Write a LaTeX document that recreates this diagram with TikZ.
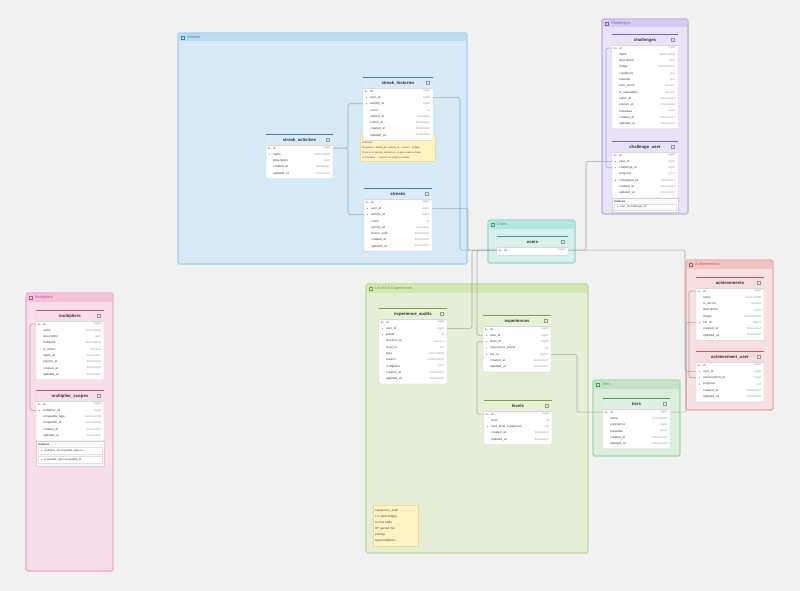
\documentclass[tikz,border=0pt]{standalone}
\usepackage{fontspec}
\setmainfont{Liberation Sans}
\usetikzlibrary{calc}
\pgfdeclarelayer{canvaslayer}
\pgfdeclarelayer{grp}
\pgfdeclarelayer{lines}
\pgfsetlayers{canvaslayer,grp,lines,main}

\definecolor{canvas}{HTML}{F1F1F1}
\definecolor{strFill}{HTML}{D5EAF6}\definecolor{strBorder}{HTML}{9ACDE8}\definecolor{strBand}{HTML}{B9DDF2}\definecolor{strText}{HTML}{3D82BD}
\definecolor{chFill}{HTML}{EAE3F6}\definecolor{chBorder}{HTML}{BCA8E3}\definecolor{chBand}{HTML}{D8CBF1}\definecolor{chText}{HTML}{8062C0}
\definecolor{usFill}{HTML}{D7F0EC}\definecolor{usBorder}{HTML}{92D3C9}\definecolor{usBand}{HTML}{B6E5DE}\definecolor{usText}{HTML}{3FA091}
\definecolor{acFill}{HTML}{F6E0E0}\definecolor{acBorder}{HTML}{E7A3A3}\definecolor{acBand}{HTML}{F1C3C3}\definecolor{acText}{HTML}{C45A5A}
\definecolor{muFill}{HTML}{F8DDEA}\definecolor{muBorder}{HTML}{E9A3C7}\definecolor{muBand}{HTML}{F3C2DB}\definecolor{muText}{HTML}{C4528E}
\definecolor{lvFill}{HTML}{E5EED6}\definecolor{lvBorder}{HTML}{BAD98D}\definecolor{lvBand}{HTML}{D3E7B2}\definecolor{lvText}{HTML}{7FA33E}
\definecolor{tiFill}{HTML}{DAEEDD}\definecolor{tiBorder}{HTML}{9FD5A8}\definecolor{tiBand}{HTML}{C0E6C7}\definecolor{tiText}{HTML}{4F9F5C}
\definecolor{noteFill}{HTML}{FFF3C4}\definecolor{noteBorder}{HTML}{EEDB8E}
\definecolor{fieldc}{HTML}{444444}\definecolor{typec}{HTML}{9A9A9A}\definecolor{linec}{HTML}{A8A8A8}

\tikzset{
 grpbox/.style={line width=0.6pt, rounded corners=1.5pt, anchor=north west, inner sep=0pt, outer sep=0pt},
 tabbox/.style={draw=gray!35, fill=white, line width=0.4pt, rounded corners=1pt, anchor=north west, inner sep=0pt, outer sep=0pt},
 rowbox/.style={anchor=north west, inner sep=0pt, outer sep=0pt, minimum height=6.3pt},
 fname/.style={anchor=west, inner sep=0pt, text=fieldc, font=\fontsize{3.1}{3.5}\selectfont},
 ftype/.style={anchor=east, inner sep=0pt, text=typec, font=\fontsize{2.8}{3.3}\selectfont},
 ttitle/.style={inner sep=0pt, text=black!80, font=\fontsize{4.3}{5}\selectfont\bfseries},
 glabel/.style={anchor=west, inner sep=0pt, font=\fontsize{3.9}{4.5}\selectfont},
 conn/.style={draw=linec, line width=0.55pt, rounded corners=2pt},
 notebox/.style={fill=noteFill, draw=noteBorder, line width=0.4pt, anchor=north west, inner sep=2pt, align=left, text=black!75},
 idxbox/.style={draw=gray!35, fill=gray!5, line width=0.4pt, anchor=north west, inner sep=0pt, outer sep=0pt},
 idxrow/.style={draw=gray!25, fill=white, line width=0.3pt, anchor=north west, inner sep=0pt, outer sep=0pt, minimum height=6pt},
 idxlabel/.style={anchor=west, inner sep=0pt, text=fieldc, font=\fontsize{2.8}{3}\selectfont\bfseries},
}

\newcommand\grp[7]{%
 \node[grpbox, draw=#6Border, fill=#6Fill, minimum width=#4pt, minimum height=#5pt] (#1) at (#2,#3) {};
 \fill[#6Band] ($(#1.north west)+(0.5,0.5)$) rectangle ($(#1.north east)+(-0.5,8.5)$);
 \draw[#6Border, line width=0.6pt, rounded corners=1.5pt] (#1.north west) rectangle (#1.south east);
 \node[glabel, text=#6Text] (#1-lbl) at ($(#1.north west)+(9,4.5)$) {#7};
 \draw[#6Text, line width=0.35pt] ($(#1.north west)+(3.5,3)$) rectangle ++(3,3);
}

\newcommand\markk[1]{\draw[typec, line width=0.3pt] ($(#1.west)+(2.6,0)$) circle (0.8pt) ($(#1.west)+(3.4,0)$) -- ++(1.6,0);}
\newcommand\markf[1]{\fill[typec] ($(#1.west)+(3.5,0)$) circle (0.7pt);}
\newcommand\markn[1]{}

\newcommand\dbtab[8]{%
 \pgfmathsetmacro\tabh{13+#5*6.3}%
 \node[tabbox, minimum width=#4pt, minimum height=\tabh pt] (#1) at (#2,#3) {};
 \fill[#6Band!55!white] ($(#1.north west)+(0.3,0.3)$) rectangle ($(#1.north east)+(-0.3,11)$);
 \draw[#6Text, line width=0.9pt] ($(#1.north west)+(0.4,0.45)$) -- ($(#1.north east)+(-0.4,0.45)$);
 \draw[gray!30, line width=0.3pt] ($(#1.north west)+(0,11)$) -- ($(#1.north east)+(0,11)$);
 \node[ttitle] (#1-title) at ($(#1.north)+(0,6)$) {#7};
 \draw[typec, line width=0.3pt] ($(#1.north east)+(-7,4.5)$) rectangle ++(3,3);
 \foreach \m/\f/\t [count=\i] in {#8} {%
   \node[rowbox, minimum width=#4pt] (#1-\i) at (#2,{#3+11+(\i-1)*6.3}) {};
   \csname mark\m\endcsname{#1-\i}%
   \node[fname] (#1-\i-n) at ($(#1-\i.west)+(7,0)$) {\f};
   \node[ftype] (#1-\i-t) at ($(#1-\i.east)+(-2.5,0)$) {\t};
 }%
}

\begin{document}
\begin{tikzpicture}[x=1pt,y=-1pt]
\begin{pgfonlayer}{canvaslayer}
\fill[canvas] (0,0) rectangle (800,591);
\end{pgfonlayer}
\useasboundingbox (0,0) rectangle (800,591);

\begin{pgfonlayer}{grp}
\grp{gstr}{178}{33}{289}{231}{str}{Streaks}
\grp{gch}{602}{19}{86}{195}{ch}{Challenges}
\grp{gus}{488}{220}{87}{43}{us}{Users}
\grp{gac}{686}{260}{87}{150}{ac}{Achievements}
\grp{gmu}{26}{293}{87}{278}{mu}{Multipliers}
\grp{glv}{366}{284}{222}{269}{lv}{Levels \& Experiences}
\grp{gti}{593}{380}{87}{76}{ti}{Tiers}
\end{pgfonlayer}

% Streaks
\dbtab{sa}{266}{134}{67}{5}{str}{streak\_activities}{k/id/bigint, f/name/varchar(255), n/description/text?, n/created\_at/timestamp?, n/updated\_at/timestamp?}

\node[notebox, text width=71pt, minimum height=27pt, inner ysep=2.2pt, font=\fontsize{2.35}{5}\selectfont] (snote) at (360,134) {ended\_at is set when the streak is reset/ended, not\\observed.\\Init archive: started\_at = activity\_at − (count − 1) days.\\There is no per-day activity log, so gaps inside a streak\\are invisible — only the run length is reliable.};

\dbtab{sh}{363}{77}{70}{8}{str}{streak\_histories}{k/id/bigint, f/user\_id/bigint, f/activity\_id/bigint, n/count/int, n/started\_at/timestamp, n/ended\_at/timestamp?, n/created\_at/timestamp?, n/updated\_at/timestamp?}

\dbtab{st}{364}{188}{68}{8}{str}{streaks}{k/id/bigint, f/user\_id/bigint, f/activity\_id/bigint, n/count/int, n/activity\_at/timestamp, n/frozen\_until/timestamp?, n/created\_at/timestamp?, n/updated\_at/timestamp?}

% Challenges
\dbtab{ch}{612}{34}{66}{13}{ch}{challenges}{k/id/bigint, n/name/varchar(255), n/description/text?, n/image/varchar(255)?, n/conditions/json, n/rewards/json, n/auto\_enroll/boolean, n/is\_repeatable/boolean, n/starts\_at/timestamp?, n/expires\_at/timestamp?, n/metadata/json?, n/created\_at/timestamp?, n/updated\_at/timestamp?}

\dbtab{cu}{612}{141}{66}{7}{ch}{challenge\_user}{k/id/bigint, f/user\_id/bigint, f/challenge\_id/bigint, n/progress/json?, f/completed\_at/timestamp?, n/created\_at/timestamp?, n/updated\_at/timestamp?}
\node[idxbox, minimum width=66pt, minimum height=14pt] (cu-idx) at (612,198.1) {};
\node[idxlabel] (cu-idx-l) at (614.5,201.2) {Indexes};
\node[idxrow, minimum width=62pt] (cu-ix1) at (614,203.8) {};
\markf{cu-ix1}
\node[fname, font=\fontsize{2.8}{3}\selectfont] (cu-ix1-t) at ($(cu-ix1.west)+(6,0)$) {user\_id,challenge\_id};

% Users
\dbtab{us}{497}{236}{71}{1}{us}{users}{k/id/bigint}

% Achievements
\dbtab{ac}{696}{277}{68}{8}{ac}{achievements}{k/id/bigint, n/name/varchar(255), n/is\_secret/boolean, n/description/text?, n/image/varchar(255)?, f/tier\_id/bigint?, n/created\_at/timestamp?, n/updated\_at/timestamp?}
\dbtab{au}{696}{351}{68}{6}{ac}{achievement\_user}{k/id/bigint, f/user\_id/bigint, f/achievement\_id/bigint, f/progress/int?, n/created\_at/timestamp?, n/updated\_at/timestamp?}

% Multipliers
\dbtab{mu}{36}{310}{68}{9}{mu}{multipliers}{k/id/bigint, n/name/varchar(255), n/description/text?, n/multiplier/decimal(8{,}2), n/is\_active/boolean, n/starts\_at/timestamp?, n/expires\_at/timestamp?, n/created\_at/timestamp?, n/updated\_at/timestamp?}
\dbtab{ms}{36}{390}{68}{6}{mu}{multiplier\_scopes}{k/id/bigint, f/multiplier\_id/bigint, n/scopeable\_type/varchar(255), n/scopeable\_id/varchar(255), n/created\_at/timestamp?, n/updated\_at/timestamp?}
\node[idxbox, minimum width=68pt, minimum height=25pt] (ms-idx) at (36,440.8) {};
\node[idxlabel] (ms-idx-l) at (38.5,444.2) {Indexes};
\node[idxrow, minimum width=64pt, minimum height=7pt] (ms-ix1) at (38,447) {};
\markf{ms-ix1}
\node[fname, font=\fontsize{2.8}{3}\selectfont] (ms-ix1-t) at ($(ms-ix1.west)+(6,0)$) {multiplier\_id,scopeable\_type,sc...};
\node[idxrow, minimum width=64pt, minimum height=7pt] (ms-ix2) at (38,456) {};
\markf{ms-ix2}
\node[fname, font=\fontsize{2.8}{3}\selectfont] (ms-ix2-t) at ($(ms-ix2.west)+(6,0)$) {scopeable\_type,scopeable\_id};

% Levels & Experiences
\dbtab{ea}{379}{308}{68}{10}{lv}{experience\_audits}{k/id/bigint, f/user\_id/bigint, f/points/int, n/levelled\_up/boolean, n/level\_to/int?, n/type/varchar(255), n/reason/varchar(255)?, n/multipliers/json?, n/created\_at/timestamp?, n/updated\_at/timestamp?}
\dbtab{ex}{483}{315}{68}{7}{lv}{experiences}{k/id/bigint, f/user\_id/bigint, f/level\_id/bigint, f/experience\_points/int, f/tier\_id/bigint?, n/created\_at/timestamp?, n/updated\_at/timestamp?}
\dbtab{lv}{484}{400}{68}{5}{lv}{levels}{k/id/bigint, n/level/int, f/next\_level\_experience/int?, n/created\_at/timestamp?, n/updated\_at/timestamp?}
\node[notebox, text width=41pt, minimum height=41pt, font=\fontsize{3}{6}\selectfont] (lnote) at (373,505) {experience\_audit\\s is (and ledger)\\to user table\\XP gained (for\\points)/\\type/multipliers...};

% Tiers
\dbtab{ti}{603}{398}{67}{6}{ti}{tiers}{k/id/bigint, n/name/varchar(255), n/experience/bigint, n/metadata/json?, n/created\_at/timestamp?, n/updated\_at/timestamp?}

\begin{pgfonlayer}{lines}
\draw[conn] (sa-1.east) -- ++(15,0) |- (sh-3.west);
\draw[conn] (sa-1.east) -- ++(15,0) |- (st-3.west);
\draw[conn] (sh-2.east) -- ++(27,0) |- (us-1.west);
\draw[conn] (st-2.east) -- ++(36,0) |- (us-1.west);
\draw[conn] (ea-2.east) -- ++(25,0) |- (us-1.west);
\draw[conn] (ex-2.west) -- ++(-6,0) |- (us-1.west);
\draw[conn] (ex-3.west) -- ++(-6,0) |- (lv-1.west);
\draw[conn] (ex-5.east) -- ++(26,0) |- (ti-1.west);
\draw[conn] (us-1.east) -- ++(18,0) |- (cu-2.west);
\draw[conn] (us-1.east) -- ++(117,0) |- (au-2.west);
\draw[conn] (ac-6.west) -- ++(-10,0) |- (ti-1.east);
\draw[conn] (au-3.west) -- ++(-7,0) |- (ac-1.west);
\draw[conn] (ch-1.west) -- ++(-6,0) |- (cu-3.west);
\draw[conn] (mu-1.west) -- ++(-6,0) |- (ms-2.west);
\end{pgfonlayer}
\end{tikzpicture}
\end{document}
